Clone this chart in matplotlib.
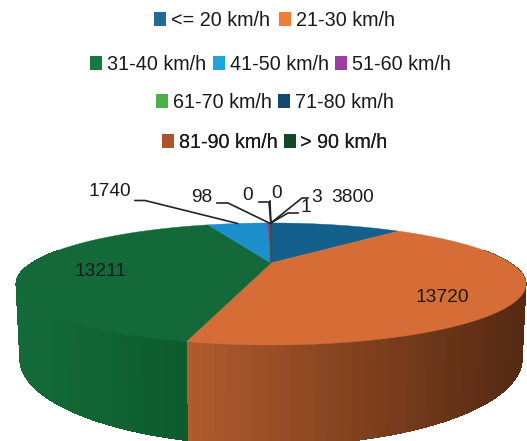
import matplotlib
matplotlib.use("Agg")
import matplotlib.pyplot as plt
import numpy as np
from matplotlib.patches import Patch, Polygon

plt.rcParams["font.family"] = ["Liberation Sans", "DejaVu Sans"]

categories = ["<= 20 km/h", "21-30 km/h", "31-40 km/h", "41-50 km/h", "51-60 km/h",
              "61-70 km/h", "71-80 km/h", "81-90 km/h", "> 90 km/h"]
values = [3800, 13720, 13211, 1740, 98, 0, 0, 1, 3]
legend_colors = ["#1F6C9B", "#F27B35", "#157A3E", "#1CA6DE", "#9A3FA0",
                 "#4CB04A", "#0D4A6B", "#A8562A", "#0F4A22"]
top_colors = ["#13608C", "#D66D36", "#136A38", "#1A8FCB", "#7A3F9B",
              "#4CB04A", "#0D4A6B", "#A8562A", "#0F4A22"]
legend_rows = [(0, 2), (2, 5), (5, 7), (7, 9)]
legend_row_x = [274.5, 270.5, 275, 275]
legend_row_y = [20, 64, 102, 142]
legend_row_gap = [0.5, 0.33, 0.33, 0.3]

# pie geometry, in pixels of the picture
CX, CY = 271, 263
RX, RY, PERSP = 239.5, 53.8, 0.344
DEPTH = 66


def project(angle, radius=1.0):
    # angle in degrees, clockwise from the back of the pie
    a = np.radians(angle)
    u, v = radius * np.sin(a), radius * np.cos(a)
    d = 1 + PERSP * v
    return CX + RX * u / d, CY - RY * v / d


def project_bottom(angle):
    a = np.radians(angle)
    u, v = np.sin(a), np.cos(a)
    d = 1 + PERSP * v
    return CX + 0.985 * RX * u / d, CY - RY * v / d + DEPTH / d


fig = plt.figure(figsize=(5.27, 4.41), dpi=100)
ax = fig.add_axes([0, 0, 1, 1])
ax.set_xlim(0, 527)
ax.set_ylim(441, 0)
ax.axis("off")

edges = np.concatenate([[0], np.cumsum(values)]) / sum(values) * 360

# side wall, cut in strips for the shading
for i in range(len(values)):
    lo, hi = max(edges[i], 75), min(edges[i + 1], 285)
    if hi <= lo:
        continue
    steps = np.arange(lo, hi + 2, 2.0)
    steps = np.append(steps[steps < hi], hi)
    for a0, a1 in zip(steps[:-1], steps[1:]):
        x0, y0 = project(a0)
        x1, y1 = project(a1)
        bx0, by0 = project_bottom(a0)
        bx1, by1 = project_bottom(a1)
        if i == 1:
            # orange wall darkens to the right
            t = (x0 - 187) / (527 - 187)
            c = (np.array([0.70, 0.36, 0.18]) * (1 - t)
                 + np.array([0.33, 0.16, 0.07]) * t)
        else:
            # green wall is close to the top, a bit darker to the front
            t = (x0 - 16) / (187 - 16)
            c = (np.array([0.075, 0.42, 0.22]) * (1 - t)
                 + np.array([0.05, 0.36, 0.18]) * t)
        ax.add_patch(Polygon([(x0, y0), (x1, y1), (bx1, by1), (bx0, by0)],
                             closed=True, facecolor=c, edgecolor="none",
                             antialiased=False))

# top face
for i in range(len(values)):
    if values[i] == 0:
        continue
    angles = np.linspace(edges[i], edges[i + 1], 120)
    pts = [(CX, CY)] + [project(a) for a in angles]
    ax.add_patch(Polygon(pts, closed=True, facecolor=top_colors[i],
                         edgecolor=top_colors[i], lw=0.3))

# data labels: x, y of the text, then elbow of the leader line if it has one
label_pos = [(353, 197), (442, 298), (100, 271), (110, 192), (202, 197),
             (248, 195), (277, 194), (306, 207), (317, 197)]
leaders = {3: ((135, 200.5), (145, 200.5)), 4: ((217, 203), (228, 203)),
           5: ((259, 202), (269, 202)), 6: ((270, 201), (270, 201)),
           7: ((298, 213), (288, 213)), 8: ((308, 198), (302, 198))}

for i, v in enumerate(values):
    ax.text(label_pos[i][0], label_pos[i][1], str(v), fontsize=13.8,
            ha="center", va="center", color="#1a1a1a")
    if i in leaders:
        mid = (edges[i] + edges[i + 1]) / 2
        tip = project(mid)
        start, elbow = leaders[i]
        ax.plot([start[0], elbow[0], tip[0]], [start[1], elbow[1], tip[1]],
                color="#222222", lw=1.2, solid_joinstyle="miter")

# one legend per row, the rows are centred and uneven
for (first, last), x, y, gap in zip(legend_rows, legend_row_x, legend_row_y, legend_row_gap):
    handles = [Patch(facecolor=legend_colors[j], label=categories[j])
               for j in range(first, last)]
    leg = ax.legend(handles=handles, loc="center", bbox_to_anchor=(x, y),
                    bbox_transform=ax.transData, ncol=last - first, frameon=False,
                    fontsize=14.2, handlelength=0.6, handleheight=0.7,
                    handletextpad=0.25, columnspacing=gap, borderpad=0, borderaxespad=0)
    for t in leg.get_texts():
        t.set_color("#1a1a1a")
    ax.add_artist(leg)

fig.savefig("out.png", dpi=100, facecolor="white")
